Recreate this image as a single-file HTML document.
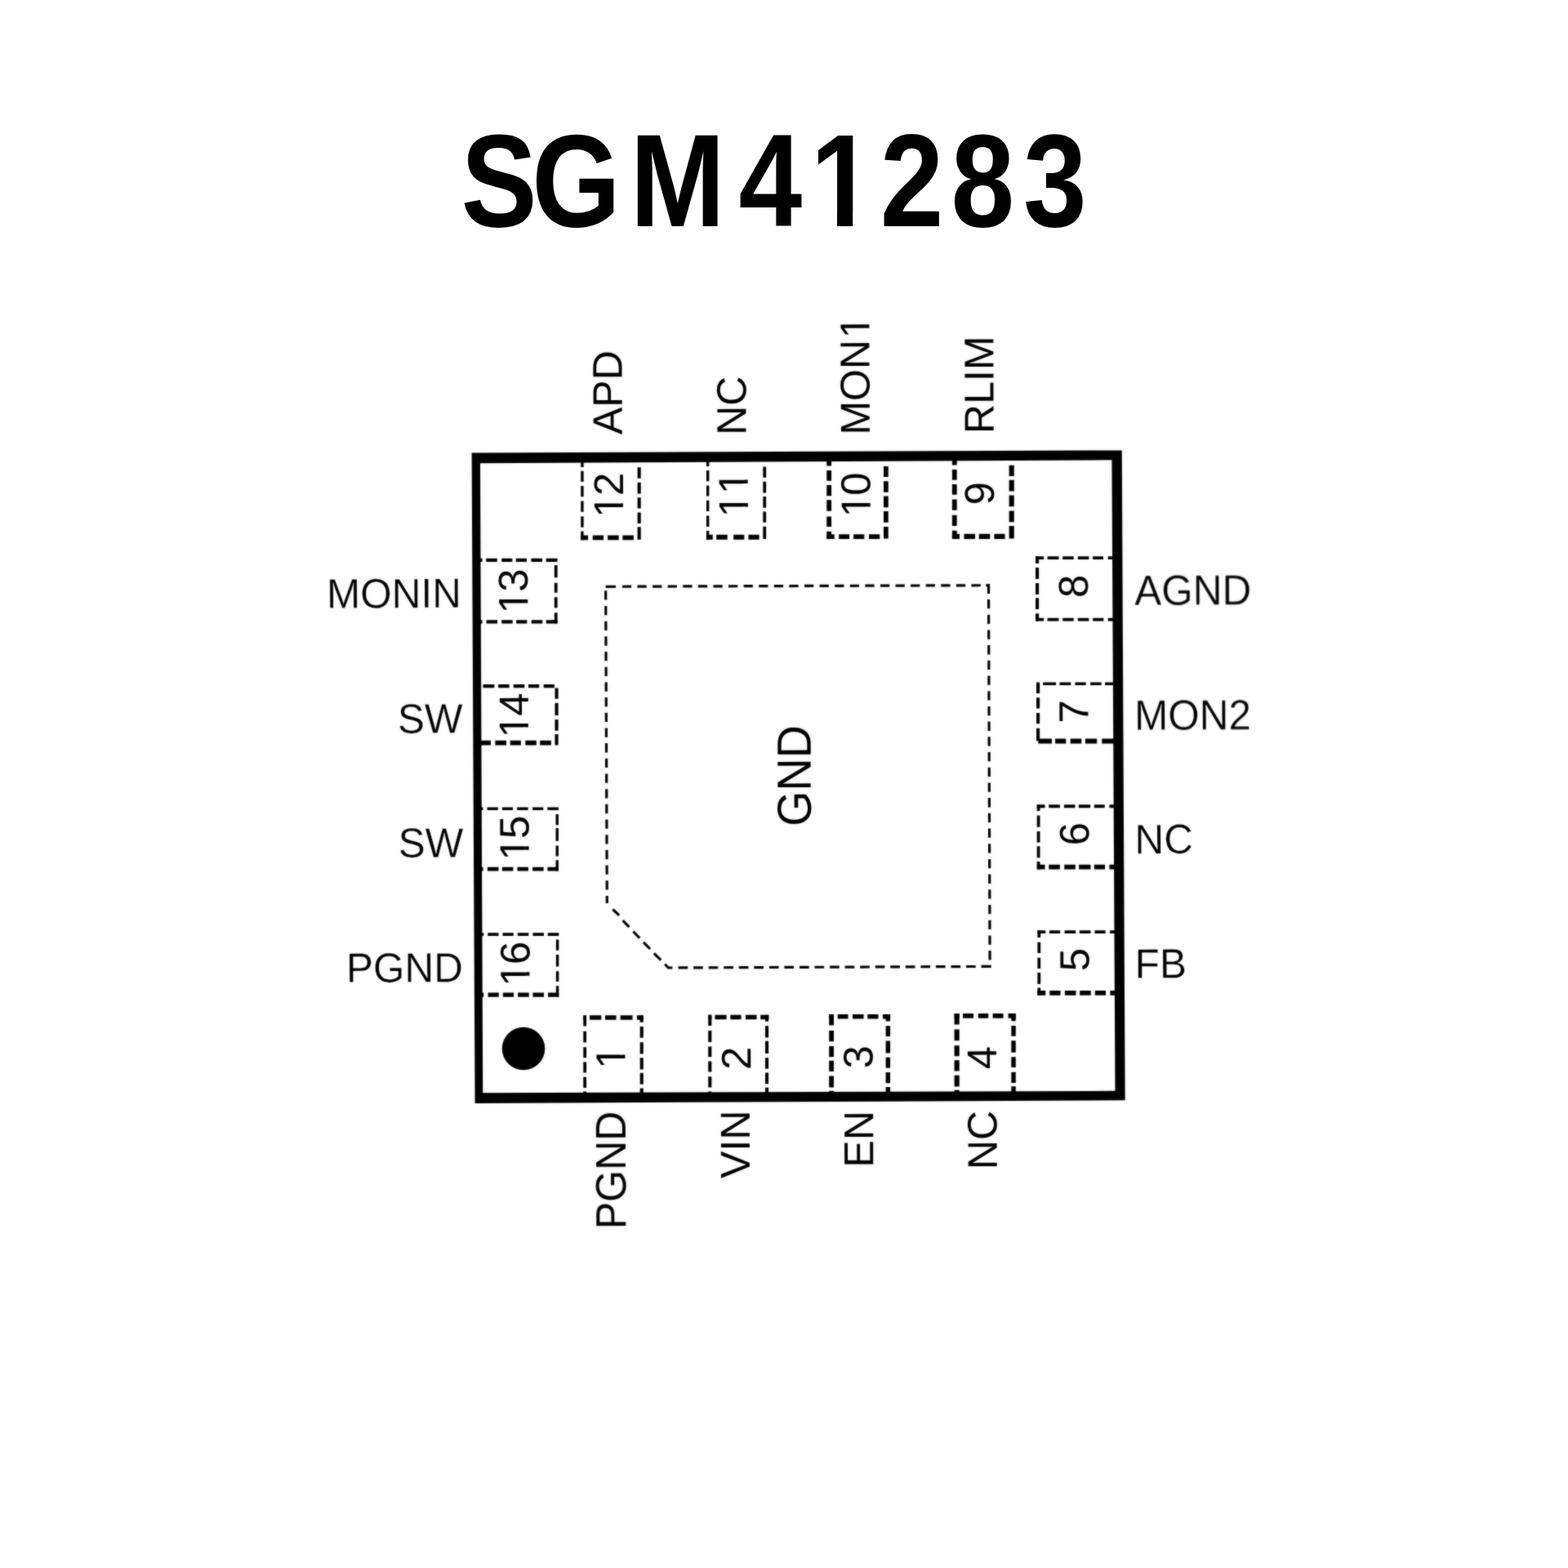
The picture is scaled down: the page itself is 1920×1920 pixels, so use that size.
<!DOCTYPE html>
<html lang="en">
<head>
<meta charset="utf-8">
<title>SGM41283</title>
<style>
html,body{margin:0;padding:0;background:#fff;}
body{width:1920px;height:1920px;overflow:hidden;}
svg{display:block;}
text{font-family:"Liberation Sans",sans-serif;font-size:49px;font-kerning:none;fill:#000;}
text.h{stroke:#fff;stroke-width:0.3px;}
text.ttl{font-weight:700;font-size:160.5px;stroke:none;}
rect{fill:#fff;}
.ln path{fill:none;stroke:#000;}
</style>
</head>
<body>
<svg xmlns="http://www.w3.org/2000/svg" width="1920" height="1920" viewBox="0 0 1920 1920">
<defs><filter id="soft" color-interpolation-filters="sRGB" filterUnits="userSpaceOnUse" x="0" y="0" width="1920" height="1920"><feGaussianBlur stdDeviation="0.8" result="b"/><feComposite in="SourceGraphic" in2="b" operator="arithmetic" k1="0" k2="0.5" k3="0.5" k4="0"/></filter></defs>
<g transform="translate(0 277.2) scale(0.87 1)"><text class="ttl" x="648.73 748.46 886.71 1039.59 1140.75 1238.85 1338.62 1440.16">SGM41283</text><rect x="1149.36" y="-17.88" width="28.85" height="19.38"/><rect x="1200.23" y="-17.88" width="26.81" height="19.38"/></g>
<g filter="url(#soft)">
<path fill="#000" fill-rule="evenodd" d="M577.6 554.4L1373.75 551.4L1377.65 1347.3L581.56 1350.9Z M588 567.2L1361.4 563.3L1365.5 1335.8L591.25 1338.3Z"/>
<g class="ln">
<path d="M585.72 685.9H590.5M595.2 685.9H608.78M614.16 685.9H627.4M631.76 685.9H645.01M650.38 685.9H663.96M668.67 685.9H682.58" stroke-width="4.1"/>
<path d="M680.7 691.97V707.25M680.7 713.64V725.87M680.7 731.24V744.15M680.7 750.2V763.44" stroke-width="3.76"/>
<path d="M585.72 761.39H590.5M595.54 761.39H609.12M614.16 761.39H627.74M632.1 761.39H645.34M650.72 761.39H664.3M668.67 761.39H682.58" stroke-width="4.1"/>
<path d="M591.48 840.14H605.4M610.1 840.14H623.68M628.72 840.14H642.3M647 840.14H660.24M665.62 840.14H678.86" stroke-width="4.1"/>
<path d="M681.55 842.49V855.74M681.55 860.77V876.05M681.55 881.09V894.67M681.55 899.03V912.61" stroke-width="4.1"/>
<path d="M586.4 909.71H601M606.37 909.71H619.95M624.66 909.71H637.9M643.27 909.71H656.86M661.22 909.71H674.8" stroke-width="5.79"/>
<path d="M587.08 990.22H591.52M596.56 990.22H609.8M614.84 990.22H628.08M633.12 990.22H646.7M652.08 990.22H665.32M670.36 990.22H683.94" stroke-width="3.42"/>
<path d="M682.23 996.97V1010.21M682.23 1013.9V1029.85M682.23 1035.57V1048.47M682.23 1053.17V1066.41" stroke-width="3.42"/>
<path d="M587.08 1064.02H591.52M596.89 1064.02H610.48M614.84 1064.02H628.42M633.46 1064.02H647.04M652.08 1064.02H665.66M670.36 1064.02H683.94" stroke-width="4.78"/>
<path d="M587.75 1144.04H592.19M597.23 1144.04H610.48M615.51 1144.04H628.76M633.8 1144.04H647.38M652.42 1144.04H666M670.7 1144.04H684.28" stroke-width="3.76"/>
<path d="M682.57 1150.62V1163.86M682.57 1168.9V1183.5M682.57 1189.21V1202.12M682.57 1207.16V1220.74" stroke-width="3.42"/>
<path d="M587.75 1218.18H592.19M597.57 1218.18H610.81M615.85 1218.18H629.09M634.13 1218.18H647.71M652.42 1218.18H666M671.04 1218.18H684.28" stroke-width="5.12"/>
<path d="M712.93 563.43V571.93M712.93 576.63V589.88M712.93 594.92V608.16M712.93 613.54V626.78M712.93 632.16V645.74M712.93 650.44V661.31" stroke-width="3.42"/>
<path d="M711.22 658.41H720.06M725.77 658.41H739.02M744.06 658.41H757.64M762.34 658.41H775.92" stroke-width="5.79"/>
<path d="M782.67 572.23V585.81M782.67 590.85V604.43M782.67 609.13V622.38M782.67 627.42V641M782.67 645.36V660.63" stroke-width="4.1"/>
<path d="M866.65 562.75V570.92M866.65 575.96V589.2M866.65 594.58V607.48M866.65 612.86V626.1M866.65 631.48V645.06M866.65 650.1V660.63" stroke-width="3.42"/>
<path d="M864.94 657.73H872.77M877.13 657.73H890.71M898.12 657.73H911.36M916.4 657.73H929.64" stroke-width="5.79"/>
<path d="M936.22 571.56V584.8M936.22 589.84V603.42M936.22 608.12V621.7M936.22 626.4V639.64M936.22 644.68V659.95" stroke-width="3.76"/>
<path d="M1015.13 562.08V570.58M1015.13 575.96V588.86M1015.13 593.9V607.14M1015.13 612.18V625.76M1015.13 632.49V645.06M1015.13 650.77V659.95" stroke-width="5.79"/>
<path d="M1012.23 657.06H1021.75M1027.13 657.06H1040.03M1045.07 657.06H1058.31M1064.03 657.06H1077.27" stroke-width="5.79"/>
<path d="M1084.87 570.88V584.12M1084.87 589.16V602.74M1084.87 607.44V621.36M1084.87 626.06V639.64M1084.87 645.02V659.62" stroke-width="5.79"/>
<path d="M1168.78 562.08V569.56M1168.78 574.94V587.84M1168.78 592.88V605.79M1168.78 611.5V624.75M1168.78 630.8V644.04M1168.78 649.76V659.95" stroke-width="5.79"/>
<path d="M1165.88 656.89H1175.06M1180.44 656.89H1194.02M1198.72 656.89H1212.3M1217.34 656.89H1230.58" stroke-width="6.13"/>
<path d="M1238.68 569.86V583.11M1238.68 587.81V601.39M1238.68 606.43V620.34M1238.68 625.38V639.3M1238.68 644V659.62" stroke-width="6.13"/>
<path d="M716.15 1243.69V1256.59M716.15 1262.65V1276.57M716.15 1282.29V1295.19M716.15 1300.57V1313.47M716.15 1318.85V1332.09M716.15 1336.45V1340.89" stroke-width="3.76"/>
<path d="M714.26 1246.08H718.03M722.05 1246.08H736.31M741.01 1246.08H754.59M759.63 1246.08H774.56M779.94 1246.08H787.77" stroke-width="5.46"/>
<path d="M785.72 1243.35V1251.86M785.72 1256.89V1270.81M785.72 1276.19V1290.45M785.72 1295.15V1309.41M785.72 1313.77V1327.69M785.72 1332.39V1340.89" stroke-width="4.1"/>
<path d="M869.28 1242.68V1255.92M869.28 1261.97V1275.89M869.28 1281.61V1294.17M869.28 1299.55V1312.45M869.28 1318.17V1331.41M869.28 1336.45V1340.21" stroke-width="4.1"/>
<path d="M867.23 1245.4H871.33M875.36 1245.4H889.62M894.32 1245.4H907.56M912.94 1245.4H926.52M931.22 1245.4H941.41" stroke-width="5.46"/>
<path d="M939.02 1242.68V1250.84M939.02 1256.22V1270.47M939.02 1274.84V1290.11M939.02 1295.15V1308.73M939.02 1313.43V1327.35M939.02 1331.71V1340.21" stroke-width="4.1"/>
<path d="M1018.1 1242V1255.58M1018.1 1261.97V1275.21M1018.1 1280.93V1294.17M1018.1 1298.87V1312.12M1018.1 1317.49V1331.41M1018.1 1335.78V1339.54" stroke-width="5.79"/>
<path d="M1015.2 1244.73H1021M1025.7 1244.73H1038.6M1043.98 1244.73H1057.56M1062.26 1244.73H1075.5M1080.88 1244.73H1090.06" stroke-width="5.46"/>
<path d="M1087.33 1242V1250.5M1087.33 1256.22V1269.12M1087.33 1274.5V1289.43M1087.33 1294.81V1307.71M1087.33 1313.09V1326.33M1087.33 1331.04V1339.54" stroke-width="5.46"/>
<path d="M1171.65 1241.32V1254.56M1171.65 1260.62V1274.2M1171.65 1280.25V1293.16M1171.65 1298.2V1311.44M1171.65 1316.82V1330.4M1171.65 1334.76V1338.86" stroke-width="6.13"/>
<path d="M1168.59 1243.88H1174.72M1179.08 1243.88H1191.99M1197.7 1243.88H1210.27M1215.64 1243.88H1228.55M1234.6 1243.88H1243.78" stroke-width="5.79"/>
<path d="M1241.05 1240.98V1250.16M1241.05 1255.88V1268.78M1241.05 1274.16V1288.76M1241.05 1294.13V1307.04M1241.05 1312.75V1326M1241.05 1330.36V1338.86" stroke-width="5.46"/>
<path d="M1268.01 683.1H1278.21M1282.57 683.1H1296.49M1301.19 683.1H1314.77M1319.81 683.1H1333.39M1338.09 683.1H1351M1356.71 683.1H1365.89" stroke-width="3.76"/>
<path d="M1270.07 681.22V690.06M1270.07 695.1V709.02M1270.07 714.06V727.98M1270.07 732.34V745.92M1270.07 751.3V760.48" stroke-width="4.1"/>
<path d="M1268.01 758.59H1278.21M1282.57 758.59H1296.49M1301.19 758.59H1314.77M1319.81 758.59H1333.39M1338.09 758.59H1351.33M1356.71 758.59H1365.89" stroke-width="3.76"/>
<path d="M1277.16 837.25H1293.11M1297.47 837.25H1311.39M1316.43 837.25H1329.67M1335.05 837.25H1348.63M1352.99 837.25H1366.57" stroke-width="3.42"/>
<path d="M1271.08 835.54V849.12M1271.08 854.16V867.4M1271.08 873.12V886.36M1271.08 891.74V907.35" stroke-width="4.1"/>
<path d="M1271.4 907.5H1288.03M1292.05 907.5H1305.29M1310.67 907.5H1324.25M1328.95 907.5H1343.21M1349.26 907.5H1366.57" stroke-width="5.79"/>
<path d="M1269.71 987.25H1279.56M1284.26 987.25H1297.84M1302.88 987.25H1316.46M1320.83 987.25H1335.08M1339.79 987.25H1352.69M1358.41 987.25H1367.25" stroke-width="4.1"/>
<path d="M1271.59 985.2V993.03M1271.59 998.41V1012.66M1271.59 1018.04V1031.62M1271.59 1036.32V1050.24M1271.59 1054.94V1064.46" stroke-width="3.76"/>
<path d="M1269.71 1061.56H1279.56M1284.26 1061.56H1297.84M1303.22 1061.56H1316.8M1321.17 1061.56H1335.42M1339.79 1061.56H1353.03M1358.41 1061.56H1367.25" stroke-width="5.79"/>
<path d="M1270.38 1141.07H1280.24M1284.94 1141.07H1298.18M1303.56 1141.07H1317.14M1321.84 1141.07H1335.42M1340.46 1141.07H1353.7M1359.08 1141.07H1367.92" stroke-width="3.76"/>
<path d="M1272.27 1139.19V1148.03M1272.27 1153.74V1166.99M1272.27 1172.7V1185.94M1272.27 1190.98V1204.9M1272.27 1209.6V1218.78" stroke-width="3.76"/>
<path d="M1270.38 1215.89H1280.24M1285.28 1215.89H1298.52M1303.9 1215.89H1317.48M1322.18 1215.89H1335.76M1340.8 1215.89H1354.04M1359.42 1215.89H1367.92" stroke-width="5.79"/>
<path d="M741.65 718.29L754.1 718.25M761.89 718.23L773.19 718.19M780.48 718.16L791.78 718.12M799.07 718.1L810.37 718.06M817.66 718.04L828.96 718M836.25 717.97L847.55 717.94M854.84 717.91L866.14 717.87M873.43 717.85L884.73 717.81M892.02 717.78L903.32 717.75M910.61 717.72L921.91 717.68M929.2 717.66L940.5 717.62M947.79 717.6L959.09 717.56M966.38 717.53L977.68 717.49M984.97 717.47L996.27 717.43M1003.56 717.41L1014.86 717.37M1022.15 717.34L1033.45 717.31M1040.74 717.28L1052.04 717.24M1059.33 717.22L1070.63 717.18M1077.92 717.15L1089.22 717.12M1096.51 717.09L1107.81 717.05M1115.1 717.03L1126.4 716.99M1133.69 716.97L1144.99 716.93M1152.28 716.9L1163.58 716.86M1170.87 716.84L1182.17 716.8M1189.46 716.78L1200.76 716.74M1207.3 716.72L1212.1 716.7M1210.5 716.7L1210.53 726.9M1210.56 734L1210.6 745.3M1210.62 752.7L1210.66 764M1210.69 771.4L1210.73 782.7M1210.75 790.1L1210.79 801.4M1210.82 808.8L1210.85 820.1M1210.88 827.5L1210.92 838.8M1210.94 846.2L1210.98 857.5M1211.01 864.9L1211.05 876.2M1211.07 883.6L1211.11 894.9M1211.14 902.3L1211.18 913.6M1211.2 921L1211.24 932.3M1211.26 939.7L1211.3 951M1211.33 958.4L1211.37 969.7M1211.39 977.1L1211.43 988.4M1211.46 995.8L1211.5 1007.1M1211.52 1014.5L1211.56 1025.8M1211.59 1033.2L1211.62 1044.5M1211.65 1051.9L1211.69 1063.2M1211.71 1070.6L1211.75 1081.9M1211.78 1089.3L1211.82 1100.6M1211.84 1108L1211.88 1119.3M1211.91 1126.7L1211.94 1138M1211.97 1145.4L1212.01 1156.7M1212.03 1164.1L1212.07 1175.4M830.55 1184.95L842.25 1184.9M849.1 1184.88L860.8 1184.83M867.65 1184.8L879.35 1184.75M886.2 1184.73L897.9 1184.68M904.75 1184.65L916.45 1184.6M923.3 1184.58L935 1184.53M941.85 1184.5L953.55 1184.45M960.4 1184.42L972.1 1184.38M978.95 1184.35L990.65 1184.3M997.5 1184.27L1009.2 1184.23M1016.05 1184.2L1027.75 1184.15M1034.6 1184.12L1046.3 1184.08M1053.15 1184.05L1064.85 1184M1071.7 1183.97L1083.4 1183.93M1090.25 1183.9L1101.95 1183.85M1108.8 1183.82L1120.5 1183.78M1127.35 1183.75L1139.05 1183.7M1145.9 1183.67L1157.6 1183.63M1164.45 1183.6L1176.15 1183.55M1183 1183.52L1194.7 1183.48M1201.6 1183.45L1213.7 1183.4M741.67 723.3L741.72 734.6M741.75 741.98L741.8 753.28M741.83 760.66L741.88 771.96M741.91 779.34L741.96 790.64M741.99 798.02L742.04 809.32M742.07 816.7L742.12 828M742.15 835.38L742.2 846.68M742.23 854.06L742.28 865.36M742.31 872.74L742.36 884.04M742.39 891.42L742.43 902.72M742.47 910.1L742.51 921.4M742.55 928.78L742.59 940.08M742.63 947.46L742.67 958.76M742.7 966.14L742.75 977.44M742.78 984.82L742.83 996.12M742.86 1003.5L742.91 1014.8M742.94 1022.18L742.99 1033.48M743.02 1040.86L743.07 1052.16M743.1 1059.54L743.15 1070.84M743.18 1078.22L743.23 1089.52M743.26 1096.9L743.3 1106M750.4 1113.5L758.2 1120.9M762.6 1127.2L770.4 1135.2M775.4 1140.6L783.2 1148.6M788 1153.8L796.1 1162M800.8 1167.3L809.3 1175.7M814.2 1180.6L818.4 1185L823.4 1185" stroke-width="3.2"/>
</g>
<circle cx="641" cy="1284" r="26.3" fill="#000"/>
<g transform="translate(761.85 532.04) rotate(-90.22) scale(1.02 1.04)"><text>APD</text></g>
<g transform="translate(913.56 532.75) rotate(-90.22) scale(1.02 1.04)"><text>NC</text></g>
<g transform="translate(1064.91 532.53) rotate(-90.22) scale(1.02 1.04)"><text x="0 40.82 78.93 115.94">MON1</text><rect x="118.08" y="-5.26" width="10.19" height="6.86"/><rect x="132.6" y="-5.26" width="9.81" height="6.86"/></g>
<g transform="translate(1216.76 530.89) rotate(-90.22) scale(1.02 1.04)"><text>RLIM</text></g>
<g transform="translate(763.01 635.39) rotate(-90.22) scale(1.04 1.04)"><text x="1.63 27.25">12</text><rect x="3.76" y="-5.26" width="10.19" height="6.86"/><rect x="18.28" y="-5.26" width="9.81" height="6.86"/></g>
<g transform="translate(915.93 634.91) rotate(-90.22) scale(1.04 1.04)"><text x="1.63 28.88">11</text><rect x="3.76" y="-5.26" width="10.19" height="6.86"/><rect x="18.28" y="-5.26" width="9.81" height="6.86"/><rect x="31.01" y="-5.26" width="10.19" height="6.86"/><rect x="45.53" y="-5.26" width="9.81" height="6.86"/></g>
<g transform="translate(1065.66 634.98) rotate(-90.22) scale(1.04 1.04)"><text x="1.63 27.25">10</text><rect x="3.76" y="-5.26" width="10.19" height="6.86"/><rect x="18.28" y="-5.26" width="9.81" height="6.86"/></g>
<g transform="translate(1217 618.34) rotate(-90.22) scale(1.04 1.04)"><text>9</text></g>
<g transform="translate(400.08 744.56) rotate(-0.22) scale(1.01 1.04)"><text class="h">MONIN</text></g>
<g transform="translate(487.07 897.7) rotate(-0.22) scale(1.01 1.04)"><text class="h">SW</text></g>
<g transform="translate(487.67 1049.8) rotate(-0.22) scale(1.01 1.04)"><text class="h">SW</text></g>
<g transform="translate(423.98 1202.82) rotate(-0.22) scale(1.01 1.04)"><text class="h">PGND</text></g>
<g transform="translate(646.21 753.05) rotate(-90.22) scale(1.04 1.04)"><text x="1.63 27.25">13</text><rect x="3.76" y="-5.26" width="10.19" height="6.86"/><rect x="18.28" y="-5.26" width="9.81" height="6.86"/></g>
<g transform="translate(647.05 905.02) rotate(-90.22) scale(1.04 1.04)"><text x="1.63 27.25">14</text><rect x="3.76" y="-5.26" width="10.19" height="6.86"/><rect x="18.28" y="-5.26" width="9.81" height="6.86"/></g>
<g transform="translate(647.7 1055.25) rotate(-90.22) scale(1.04 1.04)"><text x="1.63 27.25">15</text><rect x="3.76" y="-5.26" width="10.19" height="6.86"/><rect x="18.28" y="-5.26" width="9.81" height="6.86"/></g>
<g transform="translate(648.56 1209.35) rotate(-90.22) scale(1.04 1.04)"><text x="1.63 27.25">16</text><rect x="3.76" y="-5.26" width="10.19" height="6.86"/><rect x="18.28" y="-5.26" width="9.81" height="6.86"/></g>
<g transform="translate(1332 731.9) rotate(-90.22) scale(1.04 1.04)"><text>8</text></g>
<g transform="translate(1332.53 885.43) rotate(-90.22) scale(1.04 1.04)"><text>7</text></g>
<g transform="translate(1333.35 1035.18) rotate(-90.22) scale(1.04 1.04)"><text>6</text></g>
<g transform="translate(1333.59 1189.15) rotate(-90.22) scale(1.04 1.04)"><text>5</text></g>
<g transform="translate(1389.31 740.71) rotate(-0.22) scale(1.01 1.04)"><text class="h">AGND</text></g>
<g transform="translate(1389.04 893.62) rotate(-0.22) scale(1.01 1.04)"><text class="h">MON2</text></g>
<g transform="translate(1389.49 1045.18) rotate(-0.22) scale(1.01 1.04)"><text class="h">NC</text></g>
<g transform="translate(1389.85 1197.65) rotate(-0.22) scale(1.01 1.04)"><text class="h">FB</text></g>
<g transform="translate(765.58 1310.43) rotate(-90.22) scale(1.04 1.04)"><text x="1.63">1</text><rect x="3.76" y="-5.26" width="10.19" height="6.86"/><rect x="18.28" y="-5.26" width="9.81" height="6.86"/></g>
<g transform="translate(919.3 1309.95) rotate(-90.22) scale(1.04 1.04)"><text>2</text></g>
<g transform="translate(1068.4 1308.6) rotate(-90.22) scale(1.04 1.04)"><text>3</text></g>
<g transform="translate(1220.03 1309.14) rotate(-90.22) scale(1.04 1.04)"><text>4</text></g>
<g transform="translate(766.17 1505.04) rotate(-90.22) scale(1.02 1.04)"><text>PGND</text></g>
<g transform="translate(918.08 1442.76) rotate(-90.22) scale(1.02 1.04)"><text>VIN</text></g>
<g transform="translate(1069.36 1429.41) rotate(-90.22) scale(1.02 1.04)"><text>EN</text></g>
<g transform="translate(1220.74 1432.12) rotate(-90.22) scale(1.02 1.04)"><text>NC</text></g>
<g transform="translate(992.96 1011.82) rotate(-90.22) scale(0.985 1.04)"><text style="font-size:56.5px">GND</text></g>
</g>
</svg>
</body>
</html>
